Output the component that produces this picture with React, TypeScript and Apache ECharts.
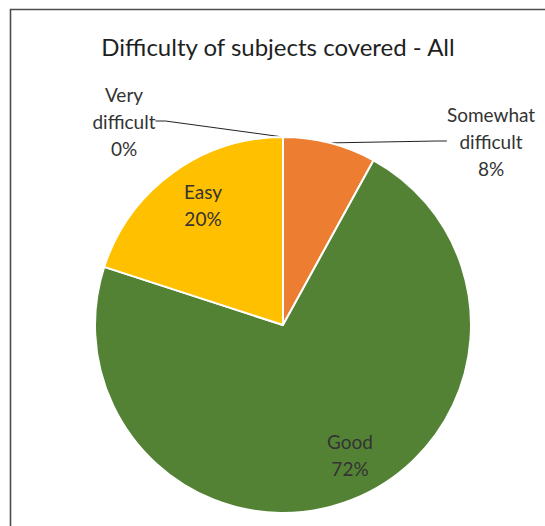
import React, { useEffect, useRef } from "react";
import * as echarts from "echarts";

const titleText = "Difficulty of subjects covered - All";
const categories = ["Very difficult", "Somewhat difficult", "Good", "Easy"];
const counts = [0, 2, 18, 5];
const colors = ["#4472C4", "#ED7D31", "#548235", "#FFC000"];

// label anchor positions (px) for each category, in the same order
const labelPositions: [number, number][] = [
  [124, 121],
  [491, 141],
  [350, 455],
  [203, 205],
];
const outsideLabel = [true, true, false, false];

export default function App() {
  const ref = useRef<HTMLDivElement>(null);
  useEffect(() => {
    if (!ref.current) return;
    const chart = echarts.init(ref.current, undefined, { renderer: "svg" });
    const font = "Lato, 'Open Sans', sans-serif";
    chart.setOption({
      animation: false,
      backgroundColor: "#ffffff",
      graphic: [
        {
          type: "rect",
          shape: { x: 10.5, y: 9.5, width: 700, height: 700 },
          style: { fill: "none", stroke: "#4d4d4d", lineWidth: 1.6 },
          z: 0,
        },
        {
          type: "text",
          x: 278,
          y: 46,
          style: {
            text: titleText,
            align: "center",
            verticalAlign: "middle",
            fontFamily: font,
            fontSize: 24,
            fill: "#1f1f1f",
          },
        },
      ],
      series: [
        {
          type: "pie",
          center: [283, 325],
          radius: 188,
          startAngle: 90,
          clockwise: true,
          percentPrecision: 0,
          avoidLabelOverlap: false,
          itemStyle: { borderColor: "#ffffff", borderWidth: 2 },
          label: {
            fontFamily: font,
            fontSize: 19,
            lineHeight: 27,
            color: "#333333",
            formatter: (p: any) => p.name.replace(" ", "\n") + "\n" + p.percent + "%",
          },
          labelLine: { show: true, length: 10, length2: 10, lineStyle: { color: "#222222", width: 1 } },
          labelLayout: (params: any) => {
            const pos = labelPositions[params.dataIndex];
            return { x: pos[0], y: pos[1], align: "center", verticalAlign: "middle" };
          },
          data: categories.map((name, i) => ({
            name,
            value: counts[i],
            itemStyle: { color: colors[i] },
            label: { position: outsideLabel[i] ? "outside" : "inside" },
            labelLine: { show: outsideLabel[i] },
          })),
        },
      ],
    });
    return () => chart.dispose();
  }, []);
  return (
    <div
      ref={ref}
      style={{ position: "fixed", left: 0, top: 0, width: 545, height: 526 }}
    />
  );
}
